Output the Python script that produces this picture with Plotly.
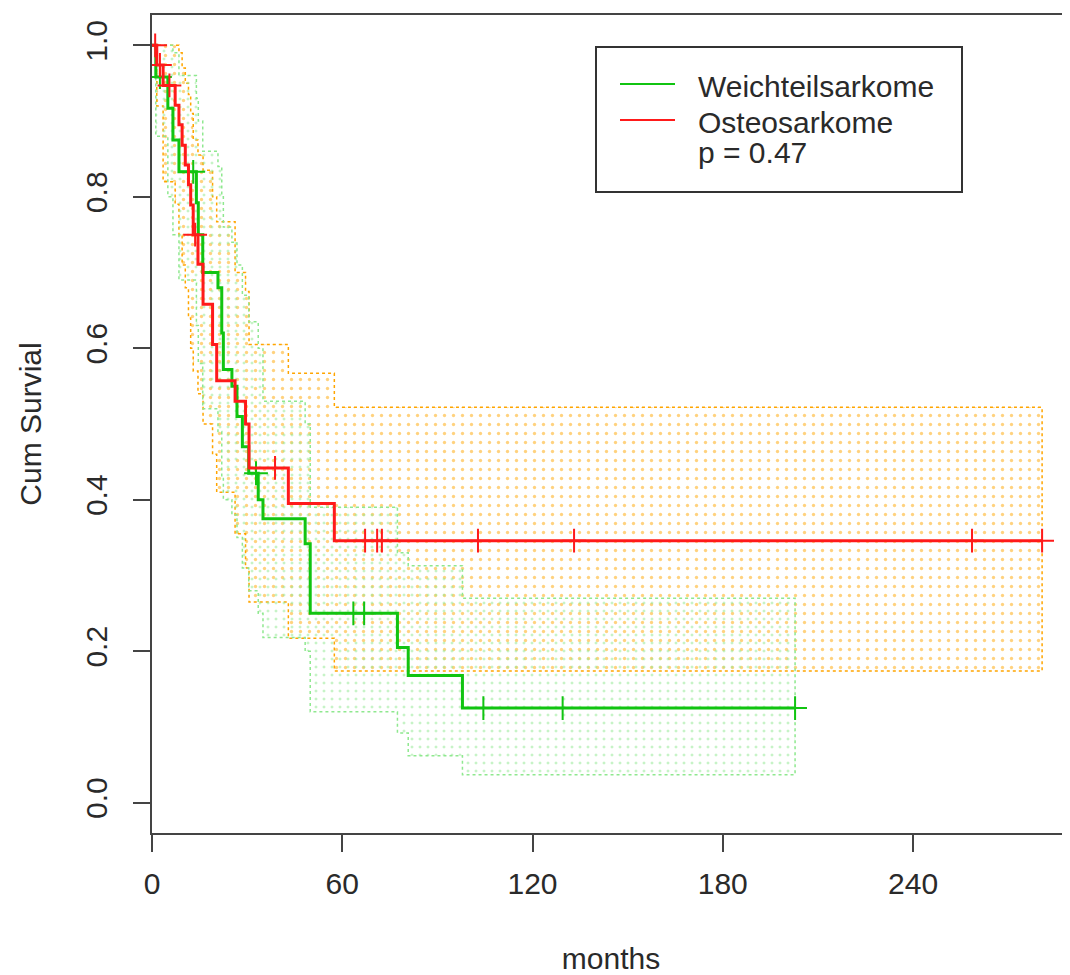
import numpy as np
import plotly.graph_objects as go

# ---------------- data ----------------
# Osteosarkome (red)
red_time = [0, 1.5, 3.5, 7.3, 8.5, 9.5, 10.5, 11.5, 12.2, 13.0, 14.5, 16.1, 19.1, 20.4, 26.2, 29.5, 30.6, 43.0, 57.5]
red_surv = [1.0, 0.974, 0.947, 0.921, 0.895, 0.868, 0.842, 0.816, 0.789, 0.750, 0.711, 0.658, 0.605, 0.557, 0.530, 0.500, 0.442, 0.395, 0.346]
red_lower = [1.0, 0.92, 0.82, 0.79, 0.75, 0.71, 0.68, 0.64, 0.60, 0.57, 0.54, 0.50, 0.46, 0.41, 0.355, 0.31, 0.265, 0.217, 0.174]
red_upper = [1.0, 1.0, 1.0, 1.0, 0.99, 0.97, 0.95, 0.935, 0.91, 0.875, 0.855, 0.835, 0.80, 0.767, 0.70, 0.675, 0.605, 0.567, 0.522]
red_end = 280.7
red_censor = [1.0, 2.5, 5.5, 13.6, 38.8, 67.2, 71.0, 72.5, 102.8, 133.1, 258.6, 280.7]

# Weichteilsarkome (green)
green_time = [0, 1.2, 5.0, 6.6, 8.5, 14.0, 14.6, 16.0, 20.8, 22.0, 22.5, 25.2, 26.8, 28.5, 30.5, 33.5, 35.0, 48.3, 49.9, 77.4, 80.8, 97.9]
green_surv = [1.0, 0.958, 0.917, 0.875, 0.833, 0.792, 0.750, 0.700, 0.680, 0.620, 0.572, 0.550, 0.510, 0.470, 0.435, 0.400, 0.375, 0.342, 0.250, 0.205, 0.168, 0.125]
green_lower = [1.0, 0.88, 0.80, 0.75, 0.69, 0.63, 0.58, 0.52, 0.49, 0.43, 0.40, 0.38, 0.35, 0.31, 0.28, 0.25, 0.218, 0.20, 0.12, 0.092, 0.062, 0.037]
green_upper = [1.0, 1.0, 1.0, 0.99, 0.96, 0.93, 0.90, 0.86, 0.84, 0.80, 0.76, 0.74, 0.71, 0.67, 0.635, 0.60, 0.53, 0.50, 0.39, 0.33, 0.313, 0.27]
green_end = 202.8
green_censor = [2.5, 13.0, 32.8, 63.5, 66.9, 104.5, 129.5, 202.8]

x_ticks = [0, 60, 120, 180, 240]
y_ticks = [0.0, 0.2, 0.4, 0.6, 0.8, 1.0]
legend_names = ["Weichteilsarkome", "Osteosarkome"]
p_text = "p = 0.47"

RED = "#FF1A1A"
GREEN = "#11C411"
ORANGE = "#FFA500"
LGREEN = "#8FE88F"
FONT = "Liberation Sans, Arial, sans-serif"
TXT = "#2a2a2a"

# page has an 8px body margin; figure sized to fit the window exactly
W, H = 1062, 967
ML, MR, MT, MB = 144, 0, 7, 142
PW = W - ML - MR
PH = H - MT - MB


def band_polygon(times, lower, upper, end):
    xs, ys = [], []
    n = len(times)
    for i in range(n):
        t_next = times[i + 1] if i + 1 < n else end
        xs += [times[i], t_next]
        ys += [upper[i], upper[i]]
    for i in range(n - 1, -1, -1):
        t_next = times[i + 1] if i + 1 < n else end
        xs += [t_next, times[i]]
        ys += [lower[i], lower[i]]
    xs.append(xs[0])
    ys.append(ys[0])
    return xs, ys


def censor_y(times, surv, cens):
    idx = np.searchsorted(np.array(times), np.array(cens), side="right") - 1
    return [surv[i] for i in idx]


fig = go.Figure()

# CI bands
for times, lo, up, end, col, psize in [
    (red_time, red_lower, red_upper, red_end, ORANGE, 9),
    (green_time, green_lower, green_upper, green_end, LGREEN, 8),
]:
    bx, by = band_polygon(times, lo, up, end)
    fig.add_trace(go.Scatter(
        x=bx, y=by, mode="lines", fill="toself",
        fillcolor="rgba(0,0,0,0)",
        fillpattern=dict(shape=".", fgcolor=col, bgcolor="rgba(0,0,0,0)", size=psize, solidity=0.11),
        line=dict(color=col, width=1.5, dash="dot"),
        hoverinfo="skip", showlegend=False,
    ))

# survival curves
for times, surv, end, cens, col in [
    (green_time, green_surv, green_end, green_censor, GREEN),
    (red_time, red_surv, red_end, red_censor, RED),
]:
    fig.add_trace(go.Scatter(
        x=list(times) + [end], y=list(surv) + [surv[-1]],
        mode="lines", line=dict(color=col, width=3, shape="hv"),
        showlegend=False,
    ))
    fig.add_trace(go.Scatter(
        x=cens, y=censor_y(times, surv, cens), mode="markers",
        marker=dict(symbol="cross-thin", size=17, line=dict(color=col, width=2)),
        showlegend=False,
    ))


# legend (manual, R style); pixel positions are window pixels
def px_to_paper_x(px):
    return (px - 8 - ML) / PW


def px_to_paper_y(py):
    return (8 + MT + PH - py) / PH


shapes = [
    dict(type="rect", xref="paper", yref="paper",
         x0=px_to_paper_x(596), x1=px_to_paper_x(962),
         y0=px_to_paper_y(192), y1=px_to_paper_y(47),
         line=dict(color="#333333", width=2), fillcolor="white", layer="above"),
]
annotations = []
for name, col, py in [(legend_names[0], GREEN, 84), (legend_names[1], RED, 120)]:
    shapes.append(dict(type="line", xref="paper", yref="paper",
                       x0=px_to_paper_x(620), x1=px_to_paper_x(675),
                       y0=px_to_paper_y(py), y1=px_to_paper_y(py),
                       line=dict(color=col, width=2)))
    annotations.append(dict(xref="paper", yref="paper", x=px_to_paper_x(696), y=px_to_paper_y(py + 2),
                            text=name, showarrow=False, xanchor="left", yanchor="middle",
                            font=dict(family=FONT, size=30, color=TXT)))
annotations.append(dict(xref="paper", yref="paper", x=px_to_paper_x(696), y=px_to_paper_y(152),
                        text=p_text, showarrow=False, xanchor="left", yanchor="middle",
                        font=dict(family=FONT, size=30, color=TXT)))

fig.update_layout(
    width=W, height=H,
    margin=dict(l=ML, r=MR, t=MT, b=MB),
    paper_bgcolor="white", plot_bgcolor="white",
    font=dict(family=FONT, size=30, color=TXT),
    shapes=shapes, annotations=annotations,
    showlegend=False,
)
fig.update_xaxes(
    range=[0, 289.5], tickvals=x_ticks, ticktext=[str(v) for v in x_ticks],
    showline=True, linecolor="#444444", linewidth=2, mirror=True,
    ticks="outside", ticklen=17, tickwidth=2, tickcolor="#444444",
    showgrid=False, zeroline=False,
    title=dict(text="months", standoff=55, font=dict(size=30)),
    ticklabelstandoff=6,
)
fig.update_yaxes(
    range=[-0.04, 1.04], tickvals=y_ticks, ticktext=[f"{v:.1f}" for v in y_ticks],
    tickangle=-90,
    showline=True, linecolor="#444444", linewidth=2, mirror=False,
    ticks="outside", ticklen=17, tickwidth=2, tickcolor="#444444",
    showgrid=False, zeroline=False,
    title=dict(text="Cum Survial", standoff=30, font=dict(size=30)),
    ticklabelstandoff=14,
)

fig.write_html("out.html")
